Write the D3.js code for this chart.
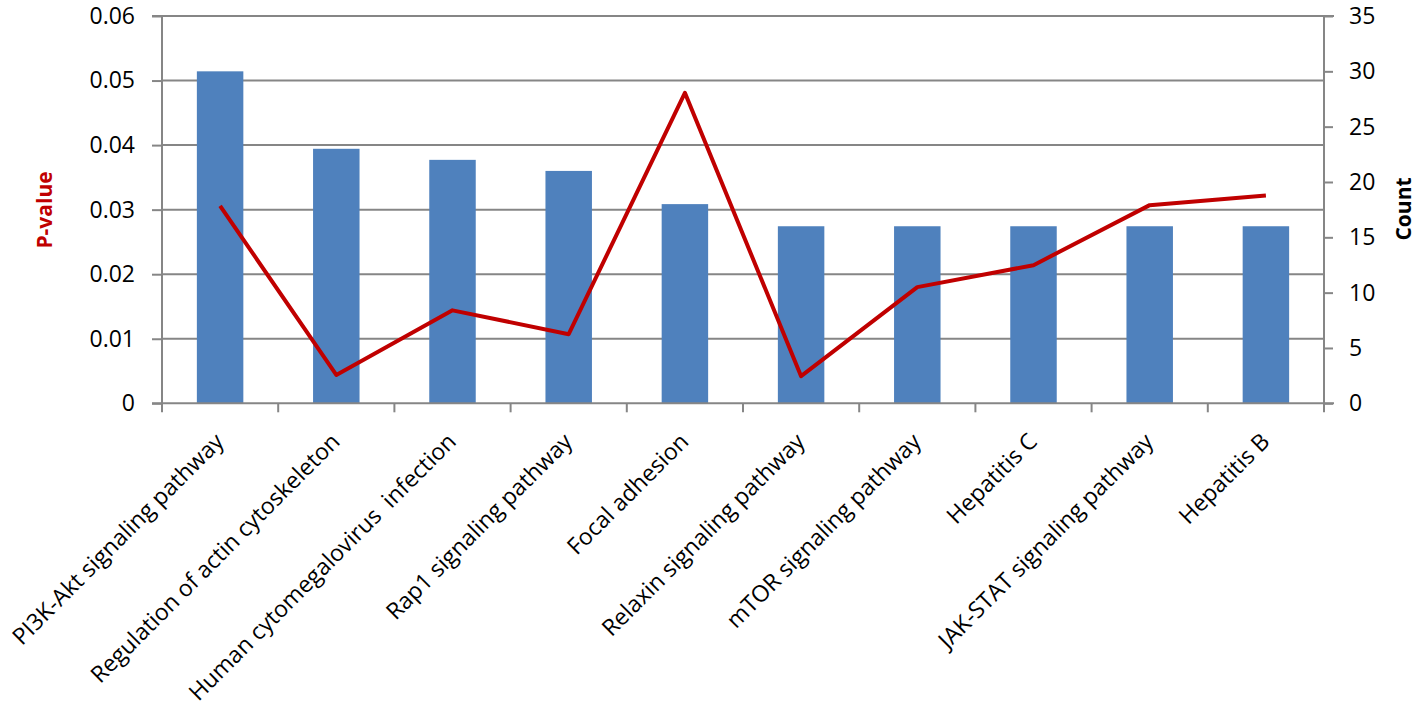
<!DOCTYPE html>
<html>
<head>
<meta charset="utf-8">
<script src="https://cdn.jsdelivr.net/npm/d3@7/dist/d3.min.js"></script>
<style>
  html, body { margin: 0; padding: 0; background: #fff; }
  svg { display: block; }
  text { font-family: "Open Sans", "Liberation Sans", sans-serif; }
</style>
</head>
<body>
<svg id="chart" width="1418" height="707"></svg>
<script>
const categories = [
  "PI3K-Akt signaling pathway",
  "Regulation of actin cytoskeleton",
  "Human cytomegalovirus  infection",
  "Rap1 signaling pathway",
  "Focal adhesion",
  "Relaxin signaling pathway",
  "mTOR signaling pathway",
  "Hepatitis C",
  "JAK-STAT signaling pathway",
  "Hepatitis B"
];
const counts = [30, 23, 22, 21, 18, 16, 16, 16, 16, 16];
const pvalues = [0.0306, 0.0044, 0.0144, 0.0107, 0.0481, 0.0042, 0.0180, 0.0214, 0.0307, 0.0322];
const leftTicks = [0, 0.01, 0.02, 0.03, 0.04, 0.05, 0.06];
const leftTickLabels = ["0", "0.01", "0.02", "0.03", "0.04", "0.05", "0.06"];
const rightTicks = [0, 5, 10, 15, 20, 25, 30, 35];
const leftTitle = "P-value";
const rightTitle = "Count";

const svg = d3.select("#chart");
const plot = { left: 162, right: 1324, top: 16, bottom: 403.3 };
const axisColor = "#868686";

const x = d3.scaleBand().domain(categories).range([plot.left, plot.right]).paddingInner(0).paddingOuter(0);
const yL = d3.scaleLinear().domain([0, 0.06]).range([plot.bottom, plot.top]);
const yR = d3.scaleLinear().domain([0, 35]).range([plot.bottom, plot.top]);

// gridlines (left axis)
svg.append("g").selectAll("line").data(leftTicks.filter(d => d > 0)).join("line")
  .attr("x1", plot.left).attr("x2", plot.right)
  .attr("y1", d => yL(d)).attr("y2", d => yL(d))
  .attr("stroke", axisColor).attr("stroke-width", 2);

// bars (Count, right axis)
const barW = x.bandwidth() * 0.4;
svg.append("g").selectAll("rect").data(categories).join("rect")
  .attr("x", d => x(d) + (x.bandwidth() - barW) / 2)
  .attr("width", barW)
  .attr("y", (d, i) => yR(counts[i]))
  .attr("height", (d, i) => plot.bottom - yR(counts[i]))
  .attr("fill", "#4f81bd");

// left axis
const gL = svg.append("g").attr("transform", `translate(${plot.left},0)`)
  .call(d3.axisLeft(yL).tickValues(leftTicks).tickFormat((d, i) => leftTickLabels[i]).tickSize(10).tickPadding(17));
gL.select(".domain").attr("stroke", axisColor).attr("stroke-width", 2).attr("d", `M-10,${plot.top}H0V${plot.bottom + 8}`);
gL.selectAll(".tick line").attr("stroke", axisColor).attr("stroke-width", 2);
gL.selectAll(".tick text").attr("font-size", 23).attr("fill", "#000").attr("font-family", "Open Sans");

// right axis
const gR = svg.append("g").attr("transform", `translate(${plot.right},0)`)
  .call(d3.axisRight(yR).tickValues(rightTicks).tickSize(9).tickPadding(16));
gR.select(".domain").attr("stroke", axisColor).attr("stroke-width", 2).attr("d", `M10,${plot.top}H0V${plot.bottom + 8}`);
gR.selectAll(".tick line").attr("stroke", axisColor).attr("stroke-width", 2);
gR.selectAll(".tick text").attr("font-size", 23).attr("fill", "#000").attr("font-family", "Open Sans");

// bottom axis
const boundaries = categories.map(c => x(c)).concat([plot.right]);
svg.append("line").attr("x1", plot.left - 10).attr("x2", plot.right + 10)
  .attr("y1", plot.bottom).attr("y2", plot.bottom)
  .attr("stroke", axisColor).attr("stroke-width", 2);
svg.append("g").selectAll("line").data(boundaries).join("line")
  .attr("x1", d => d).attr("x2", d => d)
  .attr("y1", plot.bottom).attr("y2", plot.bottom + 9)
  .attr("stroke", axisColor).attr("stroke-width", 2);

// category labels
svg.append("g").selectAll("text").data(categories).join("text")
  .attr("transform", d => `translate(${x(d) + x.bandwidth() / 2 + 5},${443}) rotate(-45)`)
  .attr("text-anchor", "end")
  .attr("font-size", 23)
  .attr("fill", "#000")
  .attr("xml:space", "preserve")
  .text(d => d);

// p-value line (left axis)
const line = d3.line()
  .x((d, i) => x(categories[i]) + x.bandwidth() / 2)
  .y(d => yL(d));
svg.append("path").datum(pvalues)
  .attr("d", line)
  .attr("fill", "none")
  .attr("stroke", "#c00000")
  .attr("stroke-width", 4)
  .attr("stroke-linejoin", "round");

// axis titles
svg.append("text")
  .attr("transform", `translate(52,210) rotate(-90)`)
  .attr("text-anchor", "middle")
  .attr("font-size", 21).attr("font-weight", "bold").attr("fill", "#c00000")
  .text(leftTitle);
svg.append("text")
  .attr("transform", `translate(1411,209) rotate(-90)`)
  .attr("text-anchor", "middle")
  .attr("font-size", 21).attr("font-weight", "bold").attr("fill", "#000")
  .text(rightTitle);
</script>
</body>
</html>
